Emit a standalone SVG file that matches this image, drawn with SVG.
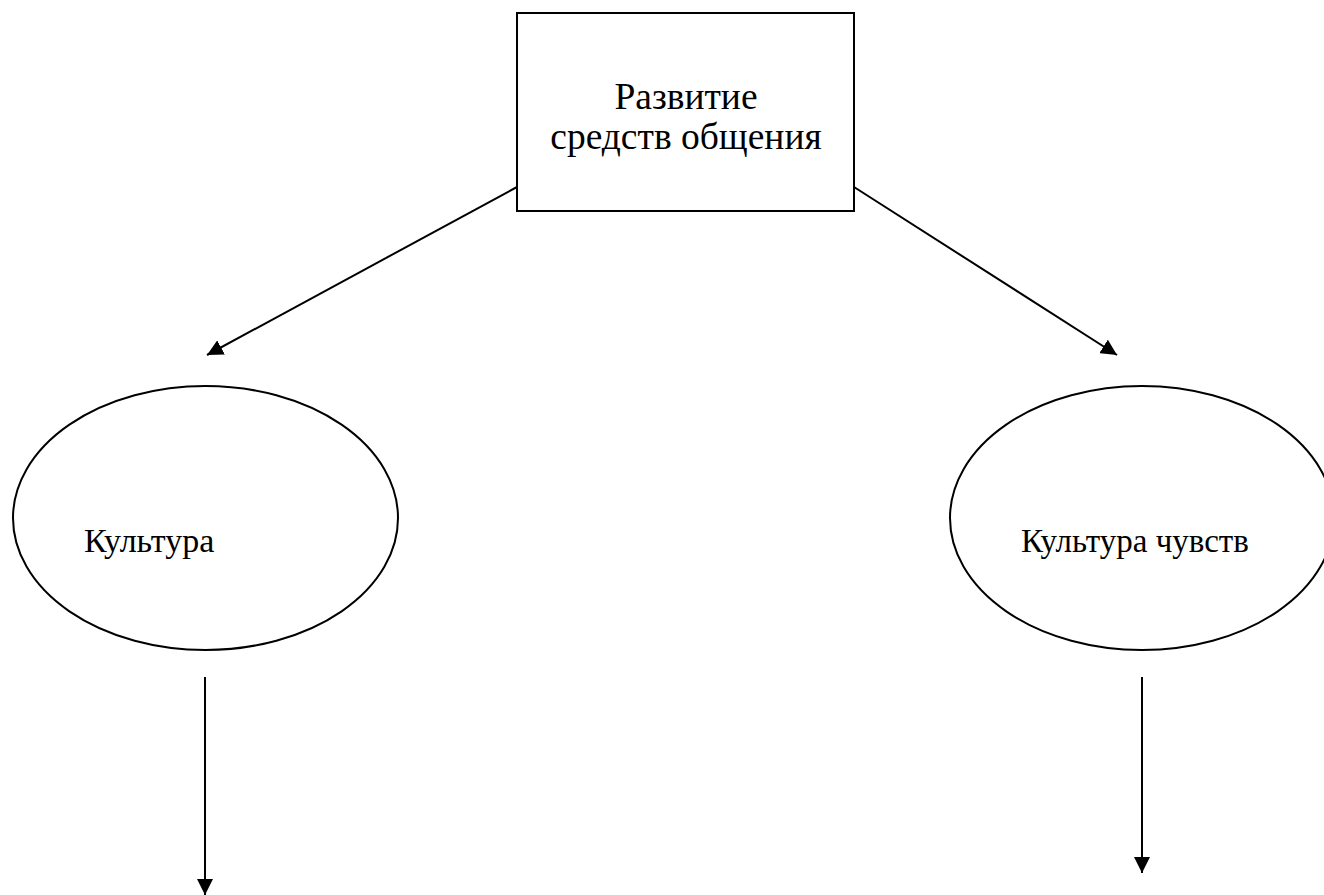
<svg xmlns="http://www.w3.org/2000/svg" width="1324" height="895" viewBox="0 0 1324 895">
<style>
.s{fill:none;stroke:#000;stroke-width:2}
.t{font-family:"Liberation Serif","Times New Roman",serif;fill:#000}
</style>
<defs>
<marker id="a" viewBox="0 0 10 10" refX="10" refY="5" markerWidth="16" markerHeight="16" markerUnits="userSpaceOnUse" orient="auto">
<path d="M0,0 L10,5 L0,10 z" fill="#000"/>
</marker>
</defs>
<rect width="1324" height="895" fill="#fff"/>
<g id="box">
<rect class="s" x="517" y="13" width="337" height="198"/>
<text class="t" x="686" y="109" font-size="37.5" text-anchor="middle">Развитие</text>
<text class="t" x="686" y="149" font-size="37.5" text-anchor="middle">средств общения</text>
</g>
<g id="left">
<ellipse class="s" cx="205.5" cy="518" rx="192.5" ry="132"/>
<text class="t" x="84" y="552" font-size="34">Культура</text>
</g>
<g id="right">
<ellipse class="s" cx="1142" cy="518" rx="192" ry="132"/>
<text class="t" x="1021" y="552" font-size="33">Культура чувств</text>
</g>
<g id="connectors">
<line class="s" x1="517" y1="187" x2="207" y2="355" marker-end="url(#a)"/>
<line class="s" x1="854" y1="187" x2="1117" y2="355" marker-end="url(#a)"/>
<line class="s" x1="205" y1="677" x2="205" y2="895" marker-end="url(#a)"/>
<line class="s" x1="1142" y1="677" x2="1142" y2="873" marker-end="url(#a)"/>
</g>
</svg>
